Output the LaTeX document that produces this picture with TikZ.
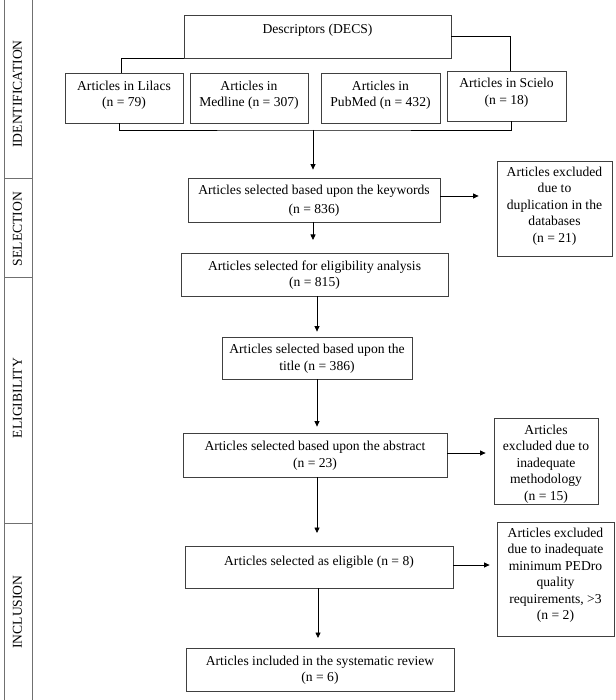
\documentclass[tikz,border=0pt]{standalone}
\usepackage{fontspec}
\setmainfont{Liberation Serif}
\usetikzlibrary{arrows.meta,calc}
\definecolor{sidegray}{HTML}{707070}
\definecolor{boxgray}{HTML}{404040}
\tikzset{
  box/.style={draw=boxgray, line width=0.8pt, inner sep=0pt, fill=white},
  txt/.style={inner sep=0pt, align=center, font=\fontsize{13.6pt}{16.5pt}\selectfont},
  sidetxt/.style={inner sep=0pt, rotate=90, font=\fontsize{13.6pt}{16pt}\selectfont},
  sidebox/.style={draw=sidegray, line width=0.8pt, inner sep=0pt, minimum width=28pt},
  conn/.style={draw=black, line width=0.8pt},
  arr/.style={conn, -{Triangle[length=5.5pt,width=5pt]}},
}
\begin{document}
\begin{tikzpicture}[x=1pt,y=-1pt]
\useasboundingbox (0,0) rectangle (615,700);

% side bar
\node[sidebox, minimum height=180pt] (s1) at (18,88) {};
\node[sidebox, minimum height=99pt] (s2) at (18,227.5) {};
\node[sidebox, minimum height=246pt] (s3) at (18,400) {};
\node[sidebox, minimum height=180pt] (s4) at (18,613) {};
\node[sidetxt] (s1-t) at (17.5,94) {IDENTIFICATION};
\node[sidetxt] (s2-t) at (17.5,229) {SELECTION};
\node[sidetxt] (s3-t) at (17.5,398) {ELIGIBILITY};
\node[sidetxt] (s4-t) at (17.5,612) {INCLUSION};

% identification boxes
\node[box, minimum width=267pt, minimum height=43pt] (desc) at (317.5,36.5) {};
\node[txt] (desc-t) at (317.5,30) {Descriptors (DECS)};
\node[box, minimum width=118pt, minimum height=50pt] (lil) at (124,98) {};
\node[txt] (lil-t) at (124,95) {Articles in Lilacs\\(n = 79)};
\node[box, minimum width=118pt, minimum height=50pt] (med) at (249,98) {};
\node[txt] (med-t) at (249,95) {Articles in\\Medline (n = 307)};
\node[box, minimum width=119pt, minimum height=50pt] (pub) at (380.5,98) {};
\node[txt] (pub-t) at (380.5,95) {Articles in\\PubMed (n = 432)};
\node[box, minimum width=119pt, minimum height=50pt] (sci) at (506.5,96) {};
\node[txt] (sci-t) at (506.5,92.5) {Articles in Scielo\\(n = 18)};

% main flow
\node[box, minimum width=252pt, minimum height=44pt] (kw) at (314,200) {};
\node[txt, text depth=3pt] (kw-t) at (314,201) {Articles selected based upon the keywords\\[2.5pt](n = 836)};
\node[box, minimum width=115pt, minimum height=95pt] (dup) at (554.5,208.5) {};
\node[txt] (dup-t) at (554.5,206) {Articles excluded\\due to\\duplication in the\\databases\\(n = 21)};
\node[box, minimum width=267pt, minimum height=43pt] (el) at (314.5,274.5) {};
\node[txt] (el-t) at (314.5,275) {Articles selected for eligibility analysis\\(n = 815)};
\node[box, minimum width=190pt, minimum height=42pt] (tit) at (317,358) {};
\node[txt] (tit-t) at (317,358.5) {Articles selected based upon the\\title (n = 386)};
\node[box, minimum width=264pt, minimum height=44pt] (abs) at (315,455) {};
\node[txt] (abs-t) at (315,455.5) {Articles selected based upon the abstract\\(n = 23)};
\node[box, minimum width=104pt, minimum height=86pt] (met) at (546,461) {};
\node[txt] (met-t) at (546,464) {Articles\\excluded due to\\inadequate\\methodology\\(n = 15)};
\node[box, minimum width=268pt, minimum height=42pt] (eli) at (319,567) {};
\node[txt] (eli-t) at (319,562) {Articles selected as eligible (n = 8)};
\node[box, minimum width=117pt, minimum height=114pt] (ped) at (555.5,579) {};
\node[txt] (ped-t) at (555.5,575) {Articles excluded\\due to inadequate\\minimum PEDro\\quality\\requirements, >3\\(n = 2)};
\node[box, minimum width=268pt, minimum height=43pt] (inc) at (320,669.5) {};
\node[txt] (inc-t) at (320,670) {Articles included in the systematic review\\(n = 6)};

% connectors (identification)
\draw[conn] (desc.south west) -| ($(lil.north)+(-3,0)$);
\draw[conn] (desc.east) -| ($(sci.north)+(3.5,0)$);
\coordinate (br) at (313,130);
\draw[conn] ($(lil.south)+(-5,0)$) |- (br) -| ($(sci.south)+(4.5,0)$);
\draw[arr, shorten >=8pt] (br) -- (br |- kw.north);

% main arrows
\draw[arr, shorten >=13pt] (313,222) -- (313,253);
\draw[arr, shorten >=18pt] ($(kw.east)+(0,-4)$) -- ($(dup.west |- kw.east)+(0,-4)$);
\draw[arr, shorten >=5pt] (tit.north |- el.south) -- (tit.north);
\draw[arr, shorten >=6pt] (tit.south) -- (tit.south |- abs.north);
\draw[arr, shorten >=8pt] ($(abs.east)+(0,-2)$) -- ($(met.west |- abs.east)+(0,-2)$);
\draw[arr, shorten >=13pt] (317,477) -- (317,546);
\draw[arr, shorten >=7pt] ($(eli.east)+(0,-2)$) -- ($(ped.west |- eli.east)+(0,-2)$);
\draw[arr, shorten >=10pt] (318,588) -- (318,648);
\end{tikzpicture}
\end{document}
